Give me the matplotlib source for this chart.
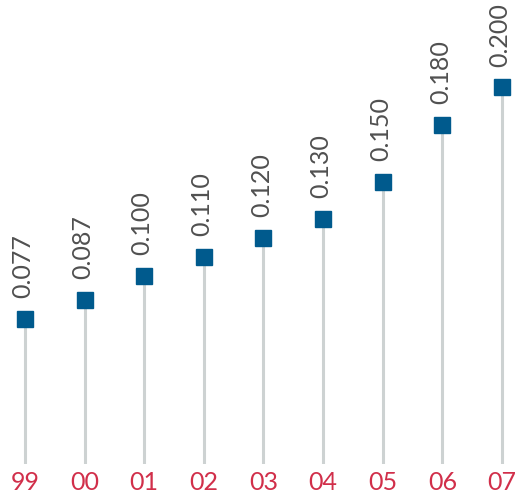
import matplotlib
matplotlib.use("Agg")
import matplotlib.pyplot as plt
import numpy as np

# Yearly values, one lollipop per year
years = ["99", "00", "01", "02", "03", "04", "05", "06", "07"]
values = [0.077, 0.087, 0.100, 0.110, 0.120, 0.130, 0.150, 0.180, 0.200]
value_labels = ["0.077", "0.087", "0.100", "0.110", "0.120", "0.130", "0.150", "0.180", "0.200"]

STEM = "#cdd2d2"
MARK = "#005a8d"
TEXT = "#505050"
TICK = "#d12f4a"

plt.rcParams["font.family"] = ["Lato", "DejaVu Sans"]

fig = plt.figure(figsize=(5.21, 4.97), dpi=100)
ax = fig.add_axes([0.0, 33 / 497, 1.0, 464 / 497])

x = np.arange(len(years))
ax.vlines(x, 0, values, color=STEM, linewidth=2.2, zorder=1)
ax.plot(x, values, linestyle="none", marker="s", markersize=11.5,
        color=MARK, zorder=2)

# rotated value labels sitting just above each marker
for xi, v, lab in zip(x, values, value_labels):
    ax.annotate(lab, (xi, v), xytext=(-1.5, 15), textcoords="offset points",
                rotation=90, ha="center", va="bottom",
                fontsize=18, color=TEXT)

ax.set_xlim(-0.419, 8.319)
ax.set_ylim(0, 0.2464)
ax.set_xticks(x)
ax.set_xticklabels(years, fontsize=18, color=TICK)
ax.tick_params(axis="x", length=0, pad=5)
ax.set_yticks([])
for s in ax.spines.values():
    s.set_visible(False)
ax.patch.set_alpha(0)

fig.savefig("out.png", dpi=100)
